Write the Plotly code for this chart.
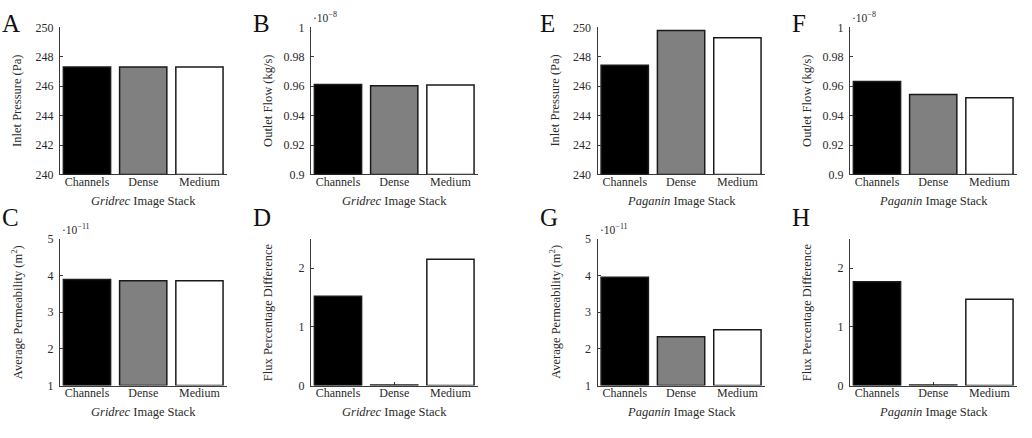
import plotly.graph_objects as go
from plotly.subplots import make_subplots

# ---------------- data ----------------
categories = ["Channels", "Dense", "Medium"]
bar_colors = ["#000000", "#808080", "#ffffff"]

# Gridrec image stack
inlet_pressure_gridrec = [247.3, 247.3, 247.3]          # Pa
outlet_flow_gridrec = [0.9612, 0.9603, 0.9608]          # x 1e-8 kg/s
permeability_gridrec = [3.89, 3.86, 3.86]               # x 1e-11 m^2
flux_diff_gridrec = [1.52, 0.01, 2.15]                  # %

# Paganin image stack
inlet_pressure_paganin = [247.43, 249.78, 249.3]        # Pa
outlet_flow_paganin = [0.9632, 0.9543, 0.9521]          # x 1e-8 kg/s
permeability_paganin = [3.95, 2.33, 2.52]               # x 1e-11 m^2
flux_diff_paganin = [1.77, 0.01, 1.47]                  # %

pressure_ticks = [240, 242, 244, 246, 248, 250]
pressure_ticktext = ["240", "242", "244", "246", "248", "250"]
flow_ticks = [0.9, 0.92, 0.94, 0.96, 0.98, 1.0]
flow_ticktext = ["0.9", "0.92", "0.94", "0.96", "0.98", "1"]
perm_ticks = [1, 2, 3, 4, 5]
perm_ticktext = ["1", "2", "3", "4", "5"]
flux_ticks = [0, 1, 2]
flux_ticktext = ["0", "1", "2"]

# ---------------- layout helpers ----------------
W, H = 1032, 438
col_px = [(60, 227), (311, 478), (597.7, 765), (850, 1017)]
row_px = [(21, 173), (239.5, 391)]


def px_x(p):
    return p / W


def px_y(p):
    return 1 - p / H


panels = [
    # letter, row, col, values, yrange, tickvals, ticktext, ytitle, stack, exponent
    ("A", 0, 0, inlet_pressure_gridrec, [240, 250], pressure_ticks, pressure_ticktext,
     "Inlet Pressure (Pa)", "Gridrec", None),
    ("B", 0, 1, outlet_flow_gridrec, [0.9, 1.0], flow_ticks, flow_ticktext,
     "Outlet Flow (kg/s)", "Gridrec", "−8"),
    ("E", 0, 2, inlet_pressure_paganin, [240, 250], pressure_ticks, pressure_ticktext,
     "Inlet Pressure (Pa)", "Paganin", None),
    ("F", 0, 3, outlet_flow_paganin, [0.9, 1.0], flow_ticks, flow_ticktext,
     "Outlet Flow (kg/s)", "Paganin", "−8"),
    ("C", 1, 0, permeability_gridrec, [1, 5], perm_ticks, perm_ticktext,
     "Average Permeability (m<sup>2</sup>)", "Gridrec", "−11"),
    ("D", 1, 1, flux_diff_gridrec, [0, 2.5], flux_ticks, flux_ticktext,
     "Flux Percentage Difference", "Gridrec", None),
    ("G", 1, 2, permeability_paganin, [1, 5], perm_ticks, perm_ticktext,
     "Average Permeability (m<sup>2</sup>)", "Paganin", "−11"),
    ("H", 1, 3, flux_diff_paganin, [0, 2.5], flux_ticks, flux_ticktext,
     "Flux Percentage Difference", "Paganin", None),
]

FONT = "Liberation Serif"
AXCOL = "#3a3a3a"
TXT = "#2a2a2a"

fig = make_subplots(rows=2, cols=4)
annotations = []

for letter, r, c, vals, yr, tv, tt, ytitle, stack, expo in panels:
    fig.add_trace(
        go.Bar(
            x=categories,
            y=[v - yr[0] for v in vals],
            base=yr[0],
            width=0.84,
            marker=dict(color=bar_colors, line=dict(color="#1a1a1a", width=1.5)),
            showlegend=False,
            hoverinfo="skip",
        ),
        row=r + 1, col=c + 1,
    )
    x0, x1 = col_px[c]
    y0, y1 = row_px[r]
    fig.update_xaxes(
        domain=[px_x(x0), px_x(x1)],
        range=[-0.48, 2.49],
        showline=True, linecolor=AXCOL, linewidth=1.4, mirror=False,
        showgrid=False, zeroline=False,
        ticks="inside", ticklen=3, tickwidth=1, tickcolor=AXCOL,
        layer="below traces",
        tickfont=dict(family=FONT, size=12, color=TXT),
        ticklabelstandoff=-4,
        fixedrange=True,
        row=r + 1, col=c + 1,
    )
    fig.update_yaxes(
        domain=[px_y(y1), px_y(y0)],
        range=yr,
        tickvals=tv, ticktext=tt,
        showline=True, linecolor=AXCOL, linewidth=1.4, mirror=False,
        showgrid=False, zeroline=False,
        ticks="inside", ticklen=3, tickwidth=1, tickcolor=AXCOL,
        tickfont=dict(family=FONT, size=12, color=TXT),
        ticklabelstandoff=3,
        fixedrange=True,
        row=r + 1, col=c + 1,
    )
    # panel letter
    annotations.append(dict(
        text=letter, xref="paper", yref="paper",
        x=px_x(x0 - 60), y=px_y(y0 - 4 if r == 0 else y0 - 22),
        xanchor="left", yanchor="middle", showarrow=False,
        font=dict(family=FONT, size=25, color="#111"),
    ))
    # y title
    annotations.append(dict(
        text=ytitle, xref="paper", yref="paper",
        x=px_x(x0 - 43), y=px_y((y0 + y1) / 2),
        xanchor="center", yanchor="middle", textangle=-90, showarrow=False,
        font=dict(family=FONT, size=12.5, color=TXT),
    ))
    # x title
    annotations.append(dict(
        text=f"<i>{stack}</i> Image Stack", xref="paper", yref="paper",
        x=px_x((x0 + x1) / 2), y=px_y(y1 + 27),
        xanchor="center", yanchor="middle", showarrow=False,
        font=dict(family=FONT, size=12.5, color=TXT),
    ))
    # exponent
    if expo:
        annotations.append(dict(
            text=f"·10<sup>{expo}</sup>", xref="paper", yref="paper",
            x=px_x(x0), y=px_y(y0 - 1),
            xanchor="left", yanchor="bottom", showarrow=False,
            font=dict(family=FONT, size=11.5, color=TXT),
        ))

fig.update_layout(
    width=W, height=H,
    margin=dict(l=0, r=0, t=0, b=0),
    paper_bgcolor="white", plot_bgcolor="white",
    annotations=annotations,
    bargap=0.16,
)

fig.write_html("out.html", config={"displayModeBar": False})
